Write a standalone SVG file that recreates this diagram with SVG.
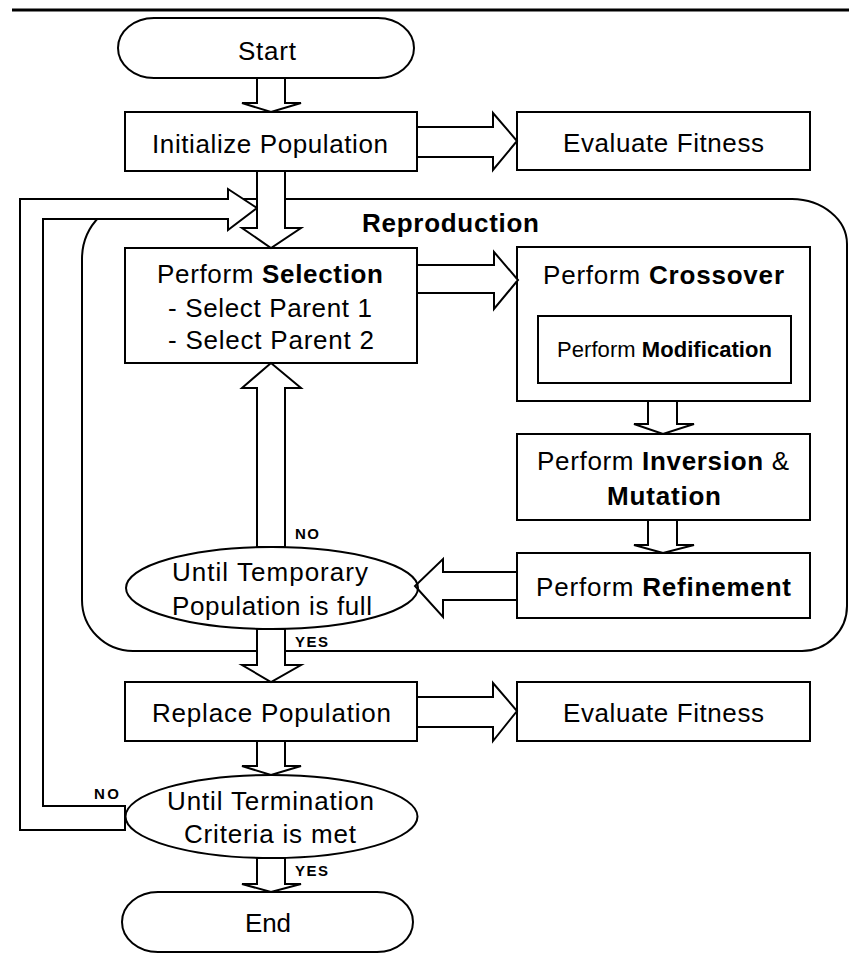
<svg xmlns="http://www.w3.org/2000/svg" width="849" height="955" viewBox="0 0 849 955">
<style>
.box{fill:#fff;stroke:#000;stroke-width:2}
.arr{fill:#fff;stroke:#000;stroke-width:2;stroke-linejoin:miter}
.t{font-family:"Liberation Sans",Arial,sans-serif;font-size:26px;fill:#000}
.b{font-weight:bold}
.s{font-size:22px}
.lbl{font-family:"Liberation Sans",Arial,sans-serif;font-size:15px;font-weight:bold;fill:#000}
</style>
<rect width="849" height="955" fill="#fff"/>
<line x1="12" y1="10" x2="849" y2="10" stroke="#000" stroke-width="3"/>
<g id="reproduction">
<path class="box" d="M142 199 H792 A56 45 0 0 1 847 244 V606 A45 45 0 0 1 802 651 H133 A51 51 0 0 1 82 600 V259 A60 60 0 0 1 142 199 Z"/>
<text class="t b" x="362" y="232" textLength="177">Reproduction</text>
</g>
<g id="start">
<rect class="box" x="118" y="18" width="296" height="60" rx="36" ry="30"/>
<text class="t" x="238" y="60" textLength="58">Start</text>
</g>
<g id="init">
<rect class="box" x="125" y="112" width="292" height="59"/>
<text class="t" x="152" y="153" textLength="236">Initialize Population</text>
</g>
<g id="eval1">
<rect class="box" x="517" y="112" width="293" height="58"/>
<text class="t" x="563" y="152" textLength="201">Evaluate Fitness</text>
</g>
<g id="selection">
<rect class="box" x="125" y="248" width="292" height="115"/>
<text class="t" x="157" y="283" textLength="226">Perform <tspan class="b">Selection</tspan></text>
<text class="t" x="168" y="317" textLength="204">- Select Parent 1</text>
<text class="t" x="168" y="349" textLength="206">- Select Parent 2</text>
</g>
<g id="crossover">
<rect class="box" x="517" y="247" width="293" height="154"/>
<text class="t" x="543" y="284" textLength="241">Perform <tspan class="b">Crossover</tspan></text>
</g>
<g id="modification">
<rect class="box" x="538" y="316" width="253" height="67"/>
<text class="t s" x="557" y="357" textLength="215">Perform <tspan class="b">Modification</tspan></text>
</g>
<g id="inversion">
<rect class="box" x="517" y="434" width="293" height="86"/>
<text class="t" x="537" y="470" textLength="252">Perform <tspan class="b">Inversion</tspan> &amp;</text>
<text class="t b" x="607" y="505" textLength="114">Mutation</text>
</g>
<g id="refinement">
<rect class="box" x="517" y="553" width="293" height="65"/>
<text class="t" x="536" y="596" textLength="255">Perform <tspan class="b">Refinement</tspan></text>
</g>
<g id="temporary">
<ellipse class="box" cx="272" cy="588" rx="146" ry="41"/>
<text class="t" x="172" y="581" textLength="196">Until Temporary</text>
<text class="t" x="172" y="615" textLength="200">Population is full</text>
</g>
<g id="replace">
<rect class="box" x="125" y="682" width="292" height="59"/>
<text class="t" x="152" y="722" textLength="239">Replace Population</text>
</g>
<g id="eval2">
<rect class="box" x="517" y="682" width="293" height="59"/>
<text class="t" x="563" y="722" textLength="201">Evaluate Fitness</text>
</g>
<g id="termination">
<ellipse class="box" cx="271.5" cy="816.5" rx="146" ry="41.5"/>
<text class="t" x="167" y="810" textLength="207">Until Termination</text>
<text class="t" x="184" y="843" textLength="172">Criteria is met</text>
</g>
<g id="end">
<rect class="box" x="122" y="892" width="291" height="60" rx="36" ry="30"/>
<text class="t" x="245" y="932" textLength="46">End</text>
</g>
<g id="connectors">
<polygon class="arr" points="257,78 257,103 242,103 271,112 301,103 285,103 285,78"/>
<polygon class="arr" points="417,127 493,127 493,113 517,141 493,170 493,157 417,157"/>
<polygon class="arr" points="125,830 20,830 20,199 228,199 228,189 257,208 228,230 228,219 43,219 43,806 125,806"/>
<polygon class="arr" points="257,171 257,228 242,228 271,248 301,228 285,228 285,171"/>
<polygon class="arr" points="417,265 494,265 494,252 518,280 494,309 494,293 417,293"/>
<polygon class="arr" points="648,401 648,424 634,424 663,434 694,424 677,424 677,401"/>
<polygon class="arr" points="648,520 648,545 634,545 663,553 694,545 677,545 677,520"/>
<polygon class="arr" style="fill:none" points="517,572 443,572 443,559 415,586 443,617 443,600 517,600"/>
<polygon class="arr" points="257,547 257,388 242,388 271,363 301,388 285,388 285,547"/>
<polygon class="arr" points="257,629 257,665 242,665 271,682 301,665 285,665 285,629"/>
<polygon class="arr" points="417,697 493,697 493,683 517,711 493,741 493,727 417,727"/>
<polygon class="arr" points="257,741 257,766 242,766 271,775 301,766 285,766 285,741"/>
<polygon class="arr" points="257,858 257,884 242,884 271,892 301,884 285,884 285,858"/>
<text class="lbl" x="295" y="539" textLength="24">NO</text>
<text class="lbl" x="295" y="647" textLength="33">YES</text>
<text class="lbl" x="94" y="799" textLength="25">NO</text>
<text class="lbl" x="295" y="876" textLength="33">YES</text>
</g>
</svg>
